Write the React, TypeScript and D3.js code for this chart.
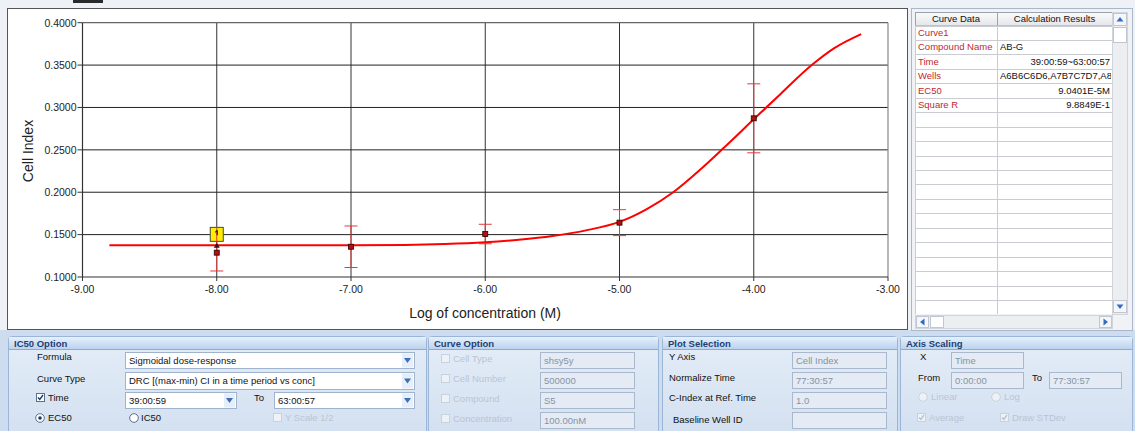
import React from "react";
import * as d3 from "d3";

// Dose-response measurements: log10 concentration (M) vs mean cell index and its standard deviation
const concLog = [-8, -7, -6, -5, -4];
const meanCI = [0.1287, 0.1357, 0.1507, 0.1641, 0.2872];
const sdCI = [0.0216, 0.0245, 0.0115, 0.0153, 0.0407];

// Fitted sigmoidal curve, sampled along the concentration axis
const fitX = [-8.8, -8.0, -7.0, -6.6, -6.3, -6.0, -5.75, -5.5, -5.25, -5.0, -4.8, -4.6, -4.4, -4.227, -4.0, -3.8, -3.568, -3.4, -3.2];
const fitY = [0.1374, 0.1374, 0.1375, 0.1378, 0.1388, 0.1409, 0.144, 0.1484, 0.155, 0.165, 0.1798, 0.2, 0.2265, 0.2518, 0.286, 0.316, 0.35, 0.37, 0.3866];

const xTicks = [-9, -8, -7, -6, -5, -4, -3];
const yTicks = [0.1, 0.15, 0.2, 0.25, 0.3, 0.35, 0.4];

// Results table
const resultLabels = ["Curve1", "Compound Name", "Time", "Wells", "EC50", "Square R"];
const resultValues = ["", "AB-G", "39:00:59~63:00:57", "A6B6C6D6,A7B7C7D7,A8B8C8D8", "9.0401E-5M", "9.8849E-1"];
const resultAlign = ["start", "start", "end", "start", "end", "end"];

const UI_FONT = "'Liberation Sans', Arial, sans-serif";
const W = 1135;
const H = 431;

const x = d3.scaleLinear().domain([-9, -3]).range([82.5, 888]);
const y = d3.scaleLinear().domain([0.1, 0.4]).range([277, 22.7]);

function Panel({ px, pw, title }: { px: number; pw: number; title: string }) {
  const top = 336;
  return (
    <g>
      <rect x={px + 0.5} y={top + 0.5} width={pw} height={H - top + 5} rx={3} fill="url(#panelBg)" stroke="#9bb5d6" />
      <rect x={px + 1} y={top + 1} width={pw - 1} height={12} fill="url(#headBg)" />
      <line x1={px + 1} x2={px + pw} y1={top + 13.5} y2={top + 13.5} stroke="#8eaad0" />
      <text x={px + 6} y={top + 10.5} fontFamily={UI_FONT} fontSize={9.5} fontWeight="bold" fill="#1e3f73">
        {title}
      </text>
    </g>
  );
}

function Combo({ bx, by, w, h, text }: { bx: number; by: number; w: number; h: number; text: string }) {
  return (
    <g>
      <rect x={bx + 0.5} y={by + 0.5} width={w} height={h} fill="#ffffff" stroke="#9fb3cf" />
      <rect x={bx + w - 12} y={by + 1.5} width={11} height={h - 2} fill="#e6eef9" />
      <path d={`M${bx + w - 10},${by + h / 2 - 2} L${bx + w - 3},${by + h / 2 - 2} L${bx + w - 6.5},${by + h / 2 + 3} Z`} fill="#3d6eb6" />
      <text x={bx + 4} y={by + h / 2 + 3.5} fontFamily={UI_FONT} fontSize={9.5} fill="#111">
        {text}
      </text>
    </g>
  );
}

function Field({ bx, by, w, h, text }: { bx: number; by: number; w: number; h: number; text: string }) {
  return (
    <g>
      <rect x={bx + 0.5} y={by + 0.5} width={w} height={h} fill="#e4ebf4" stroke="#a9b8cc" />
      <text x={bx + 4} y={by + h / 2 + 3.5} fontFamily={UI_FONT} fontSize={9.5} fill="#8593a6">
        {text}
      </text>
    </g>
  );
}

function CheckBox({ cx, cy, checked, disabled }: { cx: number; cy: number; checked?: boolean; disabled?: boolean }) {
  return (
    <g>
      <rect x={cx + 0.5} y={cy + 0.5} width={8} height={8} fill={disabled ? "#eef2f7" : "#ffffff"} stroke={disabled ? "#c7d2df" : "#5a6f8c"} />
      {checked && (
        <path d={`M${cx + 2},${cy + 4.5} L${cx + 3.8},${cy + 6.5} L${cx + 7},${cy + 2}`} fill="none" stroke={disabled ? "#b4c2d4" : "#1b3a6b"} strokeWidth={1.4} />
      )}
    </g>
  );
}

function Radio({ cx, cy, on, disabled }: { cx: number; cy: number; on?: boolean; disabled?: boolean }) {
  return (
    <g>
      <circle cx={cx} cy={cy} r={4.3} fill={disabled ? "#eef2f7" : "#ffffff"} stroke={disabled ? "#c7d2df" : "#5a6f8c"} />
      {on && <circle cx={cx} cy={cy} r={1.8} fill="#1b3a6b" />}
    </g>
  );
}

function Label({ lx, ly, text, faded }: { lx: number; ly: number; text: string; faded?: boolean }) {
  return (
    <text x={lx} y={ly} fontFamily={UI_FONT} fontSize={9.5} fill={faded ? "#b9c5d4" : "#111"}>
      {text}
    </text>
  );
}

export default function App() {
  const curve = d3
    .line<number>()
    .x((_, i) => x(fitX[i]))
    .y((d) => y(d))
    .curve(d3.curveMonotoneX)(fitY) as string;

  const tableLeft = 915;
  const tableMid = 997;
  const tableRight = 1112;
  const rowH = 14.45;
  const headTop = 12;
  const headBot = 25.5;
  const nRows = 20;

  return (
    <svg width={W} height={H} style={{ position: "absolute", left: 0, top: 0, display: "block" }}>
      <defs>
        <linearGradient id="panelBg" x1="0" y1="0" x2="0" y2="1">
          <stop offset="0" stopColor="#e4edf8" />
          <stop offset="1" stopColor="#d3e0f0" />
        </linearGradient>
        <linearGradient id="headBg" x1="0" y1="0" x2="0" y2="1">
          <stop offset="0" stopColor="#e6f0fb" />
          <stop offset="1" stopColor="#bcd2ee" />
        </linearGradient>
        <linearGradient id="colHead" x1="0" y1="0" x2="0" y2="1">
          <stop offset="0" stopColor="#fbfbfb" />
          <stop offset="1" stopColor="#e2e5ea" />
        </linearGradient>
        <clipPath id="valClip">
          <rect x={tableMid + 1} y={0} width={tableRight - tableMid - 2} height={H} />
        </clipPath>
      </defs>

      {/* window background */}
      <rect x={0} y={0} width={W} height={H} fill="#eef2f7" />
      <rect x={0} y={330} width={W} height={H - 330} fill="#cddcee" />
      <rect x={73} y={0} width={30} height={3} fill="#2a2a2a" />

      {/* chart panel */}
      <rect x={7.5} y={8.5} width={900} height={321} fill="#ffffff" stroke="#555" />

      {/* grid */}
      <g>
        {xTicks.slice(1, -1).map((t) => (
          <line key={t} x1={x(t)} x2={x(t)} y1={y(0.4)} y2={y(0.1)} stroke="#333" strokeWidth={1} />
        ))}
        {yTicks.slice(1, -1).map((t) => (
          <line key={t} x1={x(-9)} x2={x(-3)} y1={y(t)} y2={y(t)} stroke="#222" strokeWidth={1} />
        ))}
        <line x1={x(-9)} x2={x(-3)} y1={y(0.4)} y2={y(0.4)} stroke="#666" strokeWidth={1.2} />
        <line x1={x(-3)} x2={x(-3)} y1={y(0.4)} y2={y(0.1)} stroke="#888" strokeWidth={1.2} />
        <line x1={x(-9)} x2={x(-3)} y1={y(0.1)} y2={y(0.1)} stroke="#333" strokeWidth={1.2} />
        <line x1={x(-9)} x2={x(-9)} y1={y(0.4)} y2={y(0.1)} stroke="#333" strokeWidth={1.2} />
      </g>

      {/* axes ticks and labels */}
      <g fontFamily={UI_FONT} fontSize={10.5} fill="#222">
        {yTicks.map((t) => (
          <g key={t}>
            <line x1={x(-9) - 5} x2={x(-9)} y1={y(t)} y2={y(t)} stroke="#333" />
            <text x={x(-9) - 6} y={y(t) + 3.8} textAnchor="end">
              {t.toFixed(4)}
            </text>
          </g>
        ))}
        {xTicks.map((t) => (
          <g key={t}>
            <line x1={x(t)} x2={x(t)} y1={y(0.1)} y2={y(0.1) + 4} stroke="#333" />
            <text x={x(t)} y={y(0.1) + 16} textAnchor="middle">
              {t.toFixed(2)}
            </text>
          </g>
        ))}
      </g>
      <text transform="translate(33,151) rotate(-90)" textAnchor="middle" fontFamily={UI_FONT} fontSize={14} fill="#222">
        Cell Index
      </text>
      <text x={485} y={317.5} textAnchor="middle" fontFamily={UI_FONT} fontSize={14} fill="#222">
        Log of concentration (M)
      </text>

      {/* error bars */}
      <g stroke="#e23a3a" strokeWidth={1}>
        {concLog.map((c, i) => {
          const cx = x(c);
          const top = y(meanCI[i] + sdCI[i]);
          const bot = y(meanCI[i] - sdCI[i]);
          return (
            <g key={c}>
              <line x1={cx} x2={cx} y1={top} y2={bot} />
              <line x1={cx - 6.5} x2={cx + 6.5} y1={top} y2={top} />
              <line x1={cx - 6.5} x2={cx + 6.5} y1={bot} y2={bot} />
            </g>
          );
        })}
      </g>

      {/* fitted curve */}
      <path d={curve} fill="none" stroke="#ff0000" strokeWidth={2} strokeLinejoin="round" />

      {/* means */}
      {concLog.map((c, i) => (
        <rect key={c} x={x(c) - 2.5} y={y(meanCI[i]) - 2.5} width={5} height={5} fill="#b01010" stroke="#2a0000" strokeWidth={0.8} />
      ))}

      {/* selected point marker */}
      <path
        d={`M${x(concLog[0]) - 3},${y(fitY[1]) + 2.5} L${x(concLog[0]) + 3},${y(fitY[1]) + 2.5} L${x(concLog[0])},${y(fitY[1]) - 2.5} Z`}
        fill="#3a1010"
      />
      <rect
        x={x(concLog[0]) - 6.5}
        y={y(meanCI[0] + sdCI[0]) - 7}
        width={13}
        height={14}
        fill="#ffee00"
        stroke="#4a4a3a"
        strokeWidth={1}
      />
      <line x1={x(concLog[0])} x2={x(concLog[0])} y1={y(meanCI[0] + sdCI[0]) - 7} y2={y(meanCI[0] + sdCI[0]) + 7} stroke="#e23a3a" strokeWidth={1} />
      <path
        d={`M${x(concLog[0]) + 0.5},${y(meanCI[0] + sdCI[0]) - 4} l0,5 M${x(concLog[0]) - 1.5},${y(meanCI[0] + sdCI[0]) - 2} l2,-2`}
        stroke="#222"
        strokeWidth={1.2}
        fill="none"
      />

      {/* results table panel */}
      <rect x={911.5} y={8.5} width={221} height={322} fill="#f0f2f5" stroke="#aab7c8" />
      <rect x={tableLeft} y={headTop} width={tableRight - tableLeft} height={314 - headTop} fill="#ffffff" />
      <rect x={tableLeft + 0.5} y={headTop + 0.5} width={tableMid - tableLeft} height={headBot - headTop} fill="url(#colHead)" stroke="#9aa3ad" />
      <rect x={tableMid + 0.5} y={headTop + 0.5} width={tableRight - tableMid} height={headBot - headTop} fill="url(#colHead)" stroke="#9aa3ad" />
      <g fontFamily={UI_FONT} fontSize={9.5} fill="#111">
        <text x={(tableLeft + tableMid) / 2} y={headTop + 10} textAnchor="middle">
          Curve Data
        </text>
        <text x={(tableMid + tableRight) / 2} y={headTop + 10} textAnchor="middle">
          Calculation Results
        </text>
      </g>
      <g stroke="#c9ccd1" strokeWidth={1}>
        {d3.range(nRows + 1).map((r) => (
          <line key={r} x1={tableLeft} x2={tableRight} y1={Math.round(headBot + r * rowH) + 0.5} y2={Math.round(headBot + r * rowH) + 0.5} />
        ))}
        <line x1={tableMid + 0.5} x2={tableMid + 0.5} y1={headBot} y2={314} />
        <line x1={tableLeft + 0.5} x2={tableLeft + 0.5} y1={headBot} y2={314} />
      </g>
      <g fontFamily={UI_FONT} fontSize={9.5}>
        {resultLabels.map((l, i) => (
          <text key={l} x={tableLeft + 3} y={headBot + i * rowH + 10.5} fill="#c1272d">
            {l}
          </text>
        ))}
        <g clipPath="url(#valClip)">
          {resultValues.map((v, i) => (
            <text
              key={i}
              x={resultAlign[i] === "end" ? tableRight - 2 : tableMid + 3}
              y={headBot + i * rowH + 10.5}
              textAnchor={resultAlign[i]}
              fill="#111"
            >
              {v}
            </text>
          ))}
        </g>
      </g>
      {/* vertical scrollbar */}
      <rect x={tableRight + 0.5} y={headTop + 0.5} width={15} height={302} fill="#eceef1" stroke="#d0d5dc" />
      <rect x={tableRight + 1.5} y={headTop + 1.5} width={13} height={12} fill="#f4f6f9" stroke="#c0c7d1" />
      <path d={`M${tableRight + 4.5},${headTop + 9.5} L${tableRight + 11.5},${headTop + 9.5} L${tableRight + 8},${headTop + 5} Z`} fill="#2f6bbf" />
      <rect x={tableRight + 1.5} y={headTop + 15.5} width={13} height={15} fill="#ffffff" stroke="#c0c7d1" />
      <rect x={tableRight + 1.5} y={300.5} width={13} height={12} fill="#f4f6f9" stroke="#c0c7d1" />
      <path d={`M${tableRight + 4.5},${304.5} L${tableRight + 11.5},${304.5} L${tableRight + 8},${309} Z`} fill="#2f6bbf" />
      {/* horizontal scrollbar */}
      <rect x={tableLeft + 0.5} y={315.5} width={tableRight - tableLeft} height={13} fill="#eceef1" stroke="#d0d5dc" />
      <rect x={tableLeft + 1.5} y={316.5} width={12} height={11} fill="#f4f6f9" stroke="#c0c7d1" />
      <path d={`M${tableLeft + 9.5},${318.5} L${tableLeft + 9.5},${325.5} L${tableLeft + 5},${322} Z`} fill="#2f6bbf" />
      <rect x={tableLeft + 15.5} y={316.5} width={13} height={11} fill="#ffffff" stroke="#c0c7d1" />
      <rect x={tableRight - 12.5} y={316.5} width={12} height={11} fill="#f4f6f9" stroke="#c0c7d1" />
      <path d={`M${tableRight - 8.5},${318.5} L${tableRight - 8.5},${325.5} L${tableRight - 4},${322} Z`} fill="#2f6bbf" />

      {/* IC50 Option */}
      <Panel px={8} pw={418} title="IC50 Option" />
      <Label lx={37} ly={360} text="Formula" />
      <Combo bx={125} by={352} w={289} h={16} text="Sigmoidal dose-response" />
      <Label lx={37} ly={382} text="Curve Type" />
      <Combo bx={125} by={372} w={289} h={17} text="DRC [(max-min) CI in a time period vs conc]" />
      <CheckBox cx={36} cy={393} checked />
      <Label lx={48} ly={401} text="Time" />
      <Combo bx={125} by={392} w={111} h={16} text="39:00:59" />
      <Label lx={254} ly={401} text="To" />
      <Combo bx={274} by={392} w={140} h={16} text="63:00:57" />
      <Radio cx={40} cy={418} on />
      <Label lx={48} ly={421} text="EC50" />
      <Radio cx={134} cy={418} />
      <Label lx={141} ly={421} text="IC50" />
      <CheckBox cx={273} cy={413} disabled />
      <Label lx={285} ly={421} text="Y Scale 1/2" faded />

      {/* Curve Option */}
      <Panel px={428} pw={230} title="Curve Option" />
      {["Cell Type", "Cell Number", "Compound", "Concentration"].map((l, i) => (
        <g key={l}>
          <CheckBox cx={441} cy={354 + i * 20} disabled />
          <Label lx={453} ly={362 + i * 20} text={l} faded />
        </g>
      ))}
      {["shsy5y", "500000", "S5", "100.00nM"].map((v, i) => (
        <Field key={v} bx={540} by={352 + i * 20} w={94} h={16} text={v} />
      ))}

      {/* Plot Selection */}
      <Panel px={662} pw={235} title="Plot Selection" />
      <Label lx={669} ly={360} text="Y Axis" />
      <Label lx={669} ly={381} text="Normalize Time" />
      <Label lx={669} ly={401} text="C-Index at Ref. Time" />
      <Label lx={673} ly={423} text="Baseline Well ID" />
      {["Cell Index", "77:30:57", "1.0", ""].map((v, i) => (
        <Field key={i} bx={792} by={352 + i * 20} w={94} h={16} text={v} />
      ))}

      {/* Axis Scaling */}
      <Panel px={900} pw={232} title="Axis Scaling" />
      <Label lx={920} ly={360} text="X" />
      <Field bx={951} by={352} w={72} h={16} text="Time" />
      <Label lx={918} ly={381} text="From" />
      <Field bx={951} by={372} w={72} h={16} text="0:00:00" />
      <Label lx={1032} ly={381} text="To" />
      <Field bx={1049} by={372} w={72} h={16} text="77:30:57" />
      <Radio cx={923} cy={397} disabled />
      <Label lx={931} ly={400} text="Linear" faded />
      <Radio cx={996} cy={397} disabled />
      <Label lx={1004} ly={400} text="Log" faded />
      <CheckBox cx={917} cy={413} checked disabled />
      <Label lx={929} ly={421} text="Average" faded />
      <CheckBox cx={1000} cy={413} checked disabled />
      <Label lx={1012} ly={421} text="Draw STDev" faded />
    </svg>
  );
}
